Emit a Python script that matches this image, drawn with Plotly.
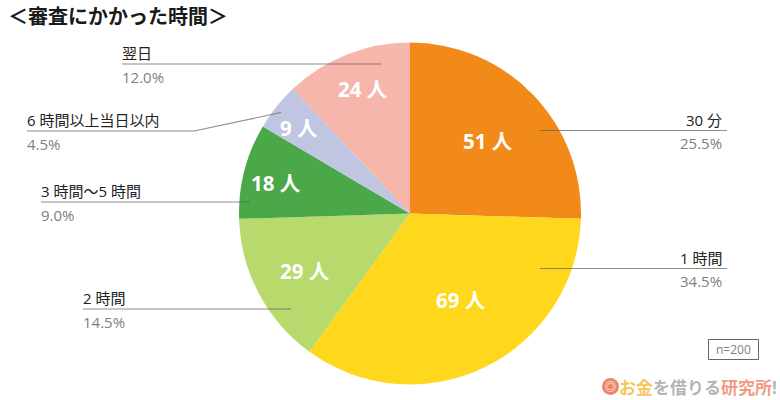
import plotly.graph_objects as go

W, H = 780, 400
FONT = "'Open Sans', 'Noto Sans CJK JP', sans-serif"

categories = ["30 分", "1 時間", "2 時間", "3 時間〜5 時間", "6 時間以上当日以内", "翌日"]
people = [51, 69, 29, 18, 9, 24]
percent_labels = ["25.5%", "34.5%", "14.5%", "9.0%", "4.5%", "12.0%"]
colors = ["#F28A1A", "#FFD71C", "#B8D96C", "#4BA849", "#C0C6E2", "#F6B6AC"]

title_text = "＜審査にかかった時間＞"
note_text = "n=200"

# layout only, in page pixels
CX, CY, R = 410, 213.5, 171
count_pos = [(488, 141), (461, 300), (305, 271), (276, 183), (299, 128), (363, 89)]
# line path, text x, anchor
leaders = [
    ([(540, 130.5), (727, 130.5)], 724, "right"),
    ([(540, 268.5), (727, 268.5)], 724, "right"),
    ([(291, 309), (83, 309)], 81, "left"),
    ([(250, 202), (41, 202)], 39, "left"),
    ([(281, 112.5), (194, 131), (27, 131)], 25, "left"),
    ([(381, 64), (122, 64)], 120, "left"),
]

def px(x):
    return x / W

def py(y):
    return 1 - y / H

fig = go.Figure(go.Pie(
    labels=categories, values=people, sort=False, direction="clockwise", rotation=0,
    textinfo="none", hoverinfo="label+value",
    marker=dict(colors=colors, line=dict(width=0)),
    domain=dict(x=[px(CX - R), px(CX + R)], y=[py(CY + R), py(CY - R)]),
    showlegend=False,
))

ann = []
shapes = []

for n, (x, y) in zip(people, count_pos):
    ann.append(dict(x=px(x), y=py(y), text=f"<b>{n} 人</b>", showarrow=False,
                    font=dict(size=20.5, color="#FFFFFF", family=FONT),
                    xanchor="center", yanchor="middle"))

for cat, pct, (pts, tx, side) in zip(categories, percent_labels, leaders):
    path = "M " + " L ".join(f"{px(a):.5f} {py(b):.5f}" for a, b in pts)
    shapes.append(dict(type="path", xref="paper", yref="paper", path=path,
                       line=dict(color="rgba(95,95,95,0.7)", width=1.2)))
    ly = pts[-1][1]
    ann.append(dict(x=px(tx), y=py(ly - 11), text=cat, showarrow=False,
                    font=dict(size=15, color="#222222", family=FONT),
                    xanchor=side, yanchor="middle"))
    ann.append(dict(x=px(tx), y=py(ly + 12.5), text=pct, showarrow=False,
                    font=dict(size=15, color="#808080", family=FONT),
                    xanchor=side, yanchor="middle"))

ann.append(dict(x=px(6), y=py(17), text=f"<b>{title_text}</b>", showarrow=False,
                font=dict(size=20, color="#1A1A1A", family=FONT),
                xanchor="left", yanchor="middle"))

shapes.append(dict(type="rect", xref="paper", yref="paper",
                   x0=px(708.5), x1=px(758.5), y0=py(359.5), y1=py(339.5),
                   line=dict(color="#666666", width=1)))
ann.append(dict(x=px(733.5), y=py(349.5), text=note_text, showarrow=False,
                font=dict(size=12, color="#808080", family=FONT),
                xanchor="center", yanchor="middle"))

# logo badge and wordmark
shapes.append(dict(type="circle", xref="paper", yref="paper",
                   x0=px(602), x1=px(619), y0=py(395), y1=py(378),
                   fillcolor="#EE8468", line=dict(width=0)))
ann.append(dict(x=px(610.5), y=py(386.5), text="<b>◎</b>", showarrow=False,
                font=dict(size=11, color="#FFFFFF", family=FONT),
                xanchor="center", yanchor="middle"))
logo = ("<b><span style='color:#F6C65B'>お金</span>"
        "<span style='color:#B5B5B5'>を借りる</span>"
        "<span style='color:#F29A85'>研究所</span>"
        "<span style='color:#B5B5B5'>!</span></b>")
ann.append(dict(x=px(779), y=py(387), text=logo, showarrow=False,
                font=dict(size=17, family=FONT), xanchor="right", yanchor="middle"))

fig.update_layout(width=W, height=H, margin=dict(l=0, r=0, t=0, b=0, pad=0),
                  paper_bgcolor="#FFFFFF", plot_bgcolor="#FFFFFF",
                  annotations=ann, shapes=shapes, font=dict(family=FONT))

fig.write_html("out.html", post_script="document.body.style.margin='0';",
               config=dict(displayModeBar=False))
